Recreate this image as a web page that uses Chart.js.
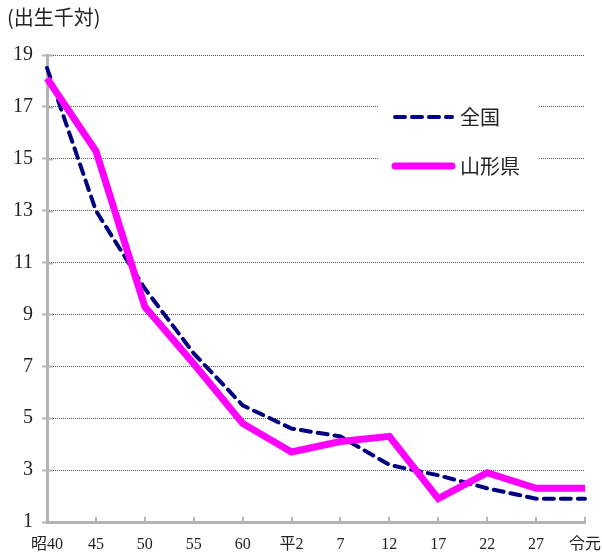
<!DOCTYPE html>
<html>
<head>
<meta charset="utf-8">
<script src="https://cdn.jsdelivr.net/npm/chart.js@4.4.1/dist/chart.umd.min.js"></script>
<style>
  html, body { margin: 0; padding: 0; background: #fff; }
  #wrap { width: 602px; height: 554px; position: relative; }
</style>
</head>
<body>
<div id="wrap"><canvas id="chart" width="602" height="554"></canvas></div>
<script>
// Data
const years = ['昭40', '45', '50', '55', '60', '平2', '7', '12', '17', '22', '27', '令元'];
const national = [18.5, 13.0, 10.0, 7.5, 5.5, 4.6, 4.3, 3.2, 2.8, 2.3, 1.9, 1.9];
const yamagata = [18.1, 15.3, 9.3, 7.1, 4.8, 3.7, 4.1, 4.3, 1.9, 2.9, 2.3, 2.3];
const yTicks = [1, 3, 5, 7, 9, 11, 13, 15, 17, 19];
const unitLabel = '(出生千対)';

const SERIF = '"Liberation Serif", "DejaVu Serif", "Noto Sans CJK JP", serif';
const CJK = '"Noto Sans CJK JP", "Liberation Serif", serif';
const axisGray = '#b4b4b4';

// extras: unit text, inward tick marks, boxed legend
const extras = {
    id: 'extras',
    afterDraw(chart) {
        const ctx = chart.ctx;
        const x = chart.scales.x, y = chart.scales.y;
        ctx.save();

        // inward tick marks
        ctx.strokeStyle = axisGray;
        ctx.lineWidth = 2;
        ctx.beginPath();
        yTicks.forEach(v => {
            const py = Math.round(y.getPixelForValue(v)) + 0.5;
            ctx.moveTo(x.left, py);
            ctx.lineTo(x.left + 6, py);
        });
        years.forEach((_, i) => {
            if (i === 0) return;
            const px = Math.round(x.getPixelForValue(i));
            ctx.moveTo(px, y.bottom);
            ctx.lineTo(px, y.bottom - 5);
        });
        ctx.stroke();

        // unit label
        ctx.fillStyle = '#222';
        ctx.font = '20px ' + CJK;
        ctx.textBaseline = 'middle';
        ctx.textAlign = 'left';
        ctx.fillText(unitLabel, 7, 17);

        // legend box (covers the gridlines)
        ctx.fillStyle = '#fff';
        ctx.fillRect(378, 85, 161, 100);
        const items = chart.data.datasets;
        const rows = [117, 166];
        items.forEach((ds, i) => {
            const ly = rows[i];
            ctx.beginPath();
            ctx.strokeStyle = ds.borderColor;
            ctx.lineWidth = ds.borderWidth;
            ctx.lineCap = 'round';
            ctx.setLineDash(ds.borderDash || []);
            ctx.moveTo(395, ly);
            ctx.lineTo(452, ly);
            ctx.stroke();
            ctx.setLineDash([]);
            ctx.fillStyle = '#222';
            ctx.font = '20px ' + CJK;
            ctx.textAlign = 'left';
            ctx.fillText(ds.label, 460, ly);
        });
        ctx.restore();
    }
};

new Chart(document.getElementById('chart'), {
    type: 'line',
    data: {
        labels: years,
        datasets: [
            {
                label: '全国',
                data: national,
                borderColor: '#000080',
                borderWidth: 4,
                borderDash: [10, 7],
                borderCapStyle: 'round',
                pointRadius: 0,
                tension: 0,
                order: 2
            },
            {
                label: '山形県',
                data: yamagata,
                borderColor: '#ff00ff',
                borderWidth: 7,
                borderCapStyle: 'butt',
                borderJoinStyle: 'miter',
                pointRadius: 0,
                tension: 0,
                order: 1
            }
        ]
    },
    options: {
        responsive: false,
        animation: false,
        layout: { padding: { top: 55, right: 17, left: 0, bottom: 0 } },
        plugins: {
            legend: { display: false },
            tooltip: { enabled: false }
        },
        scales: {
            x: {
                offset: false,
                grid: { display: false },
                border: { color: axisGray, width: 3 },
                ticks: {
                    color: '#222',
                    font: { family: SERIF, size: 16 },
                    maxRotation: 0,
                    autoSkip: false,
                    padding: 5
                },
                afterFit(scale) {
                    scale.height = 32;
                    scale.paddingRight = 0;
                }
            },
            y: {
                min: 1,
                max: 19,
                afterBuildTicks(scale) {
                    scale.ticks = yTicks.map(v => ({ value: v }));
                },
                grid: {
                    color: '#555',
                    lineWidth: 1,
                    tickColor: axisGray,
                    tickWidth: 2,
                    tickLength: 5,
                    tickBorderDash: []
                },
                border: { color: axisGray, width: 3, dash: [1, 1] },
                ticks: {
                    color: '#222',
                    font: { family: SERIF, size: 20 },
                    padding: 9
                },
                afterFit(scale) { scale.width = 47; }
            }
        }
    },
    plugins: [extras]
});
</script>
</body>
</html>
